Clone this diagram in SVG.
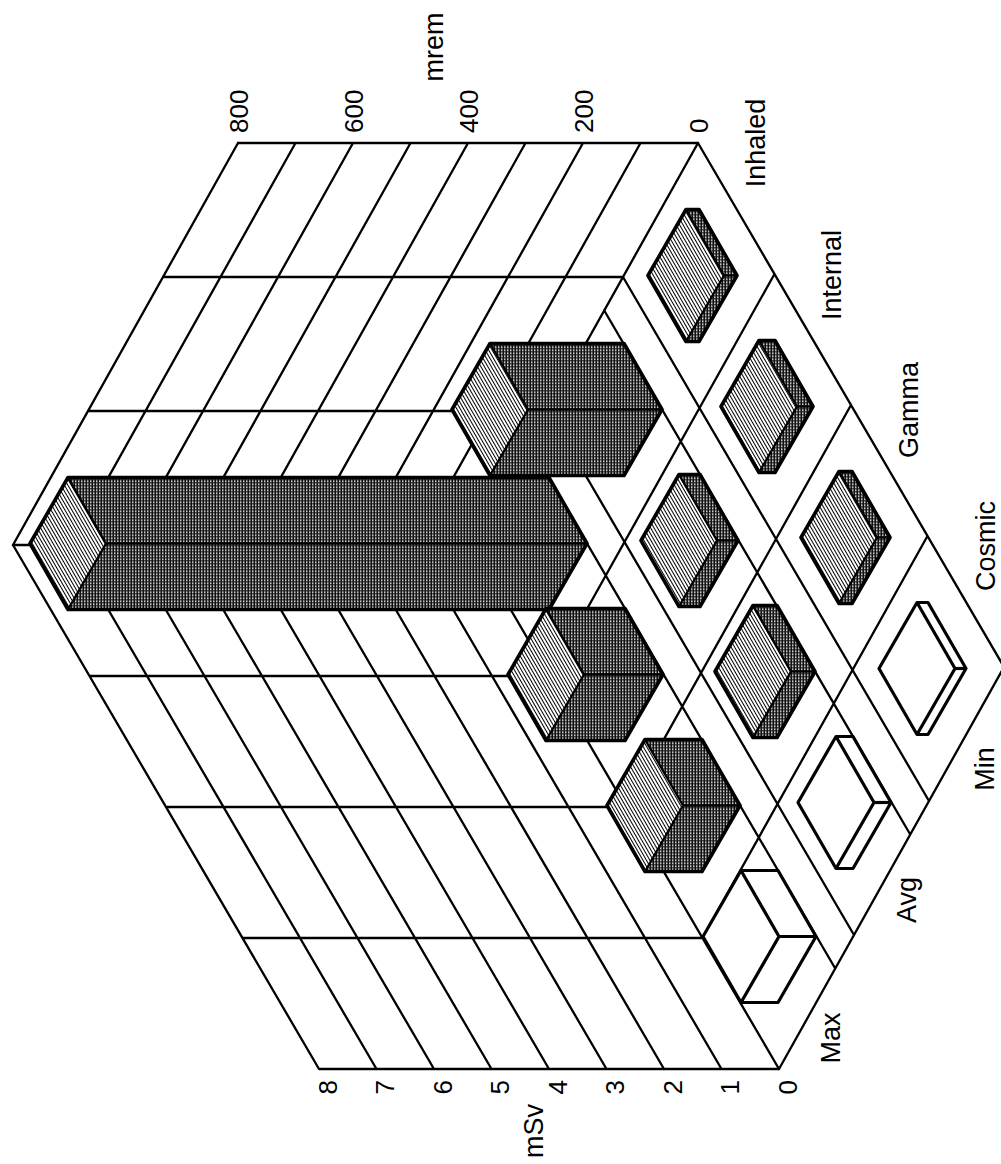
<svg xmlns="http://www.w3.org/2000/svg" width="1001" height="1164" viewBox="0 0 1001 1164">
<defs>
<pattern id="hatch" width="3" height="3" patternUnits="userSpaceOnUse" patternTransform="rotate(60)">
<rect width="3" height="3" fill="#fff"/><rect width="3" height="1" fill="#000"/>
</pattern>
<pattern id="dots" width="3" height="3" patternUnits="userSpaceOnUse">
<rect width="3" height="3" fill="#111"/><rect width="1.5" height="1.5" fill="#fff"/>
</pattern>
</defs>
<style>
.g{stroke:#000;stroke-width:2.3;fill:none;stroke-linecap:round}
.sil{fill:none;stroke:#000;stroke-width:3.6;stroke-linejoin:round}
.in{fill:none;stroke:#000;stroke-width:2.3;stroke-linejoin:round}
.top{fill:url(#hatch)}
.side{fill:url(#dots)}
.w{fill:#fff}
.win{fill:none;stroke:#000;stroke-width:3.2;stroke-linejoin:round}
text{font-family:"Liberation Sans",Arial,Helvetica,sans-serif;font-size:26px;fill:#000}
.lab{font-size:27px}
</style>
<rect width="1001" height="1164" fill="#fff"/>
<g id="wall-back-left">
<path class="g" d="M238 143H698 M163 277H623 M88 411H548 M13 545H473 M698 143L473 545 M640.5 143L415.5 545 M583 143L358 545 M525.5 143L300.5 545 M468 143L243 545 M410.5 143L185.5 545 M353 143L128 545 M295.5 143L70.5 545 M238 143L13 545"/>
</g>
<g id="wall-back-right">
<path class="g" d="M89.5 676H549.5 M166 807H626 M242.5 938H702.5 M319 1069H779 M473 545L779 1069 M415.5 545L721.5 1069 M358 545L664 1069 M300.5 545L606.5 1069 M243 545L549 1069 M185.5 545L491.5 1069 M128 545L434 1069 M70.5 545L376.5 1069 M13 545L319 1069"/>
</g>
<g id="floor">
<path class="g" d="M698 143L1004 667 M623 277L929 801 M604.25 310.5L910.25 834.5 M548 411L854 935 M529.25 444.5L835.25 968.5 M774.5 274L549.5 676 M851 405L626 807 M927.5 536L702.5 938 M1004 667L779 1069"/>
</g>
<g id="bars">
<g id="bar-inhaled-max" transform="translate(549 543.5)">
<polygon class="side" points="-481,-66 0,-66 38,0 -443,0"/>
<polygon class="side" points="-443,0 38,0 0,66 -481,66"/>
<polygon class="top" points="-481,-66 -443,0 -481,66 -519,0"/>
<polyline class="in" points="-481,-66 -443,0 -481,66"/>
<line class="in" x1="-443" y1="0" x2="38" y2="0"/>
<polygon class="sil" points="-481,-66 0,-66 38,0 0,66 -481,66 -519,0"/>
</g>
<g id="bar-inhaled-avg" transform="translate(624 409.5)">
<polygon class="side" points="-134,-66 0,-66 38,0 -96,0"/>
<polygon class="side" points="-96,0 38,0 0,66 -134,66"/>
<polygon class="top" points="-134,-66 -96,0 -134,66 -172,0"/>
<polyline class="in" points="-134,-66 -96,0 -134,66"/>
<line class="in" x1="-96" y1="0" x2="38" y2="0"/>
<polygon class="sil" points="-134,-66 0,-66 38,0 0,66 -134,66 -172,0"/>
</g>
<g id="bar-internal-max" transform="translate(625 674.5)">
<polygon class="side" points="-79,-66 0,-66 38,0 -41,0"/>
<polygon class="side" points="-41,0 38,0 0,66 -79,66"/>
<polygon class="top" points="-79,-66 -41,0 -79,66 -117,0"/>
<polyline class="in" points="-79,-66 -41,0 -79,66"/>
<line class="in" x1="-41" y1="0" x2="38" y2="0"/>
<polygon class="sil" points="-79,-66 0,-66 38,0 0,66 -79,66 -117,0"/>
</g>
<g id="bar-inhaled-min" transform="translate(699 275.5)">
<polygon class="side" points="-13,-66 0,-66 38,0 25,0"/>
<polygon class="side" points="25,0 38,0 0,66 -13,66"/>
<polygon class="top" points="-13,-66 25,0 -13,66 -51,0"/>
<polyline class="in" points="-13,-66 25,0 -13,66"/>
<line class="in" x1="25" y1="0" x2="38" y2="0"/>
<polygon class="sil" points="-13,-66 0,-66 38,0 0,66 -13,66 -51,0"/>
</g>
<g id="bar-internal-avg" transform="translate(700 540.5)">
<polygon class="side" points="-21,-66 0,-66 38,0 17,0"/>
<polygon class="side" points="17,0 38,0 0,66 -21,66"/>
<polygon class="top" points="-21,-66 17,0 -21,66 -59,0"/>
<polyline class="in" points="-21,-66 17,0 -21,66"/>
<line class="in" x1="17" y1="0" x2="38" y2="0"/>
<polygon class="sil" points="-21,-66 0,-66 38,0 0,66 -21,66 -59,0"/>
</g>
<g id="bar-gamma-max" transform="translate(702 805.5)">
<polygon class="side" points="-57,-66 0,-66 38,0 -19,0"/>
<polygon class="side" points="-19,0 38,0 0,66 -57,66"/>
<polygon class="top" points="-57,-66 -19,0 -57,66 -95,0"/>
<polyline class="in" points="-57,-66 -19,0 -57,66"/>
<line class="in" x1="-19" y1="0" x2="38" y2="0"/>
<polygon class="sil" points="-57,-66 0,-66 38,0 0,66 -57,66 -95,0"/>
</g>
<g id="bar-internal-min" transform="translate(775 406.5)">
<polygon class="side" points="-16,-66 0,-66 38,0 22,0"/>
<polygon class="side" points="22,0 38,0 0,66 -16,66"/>
<polygon class="top" points="-16,-66 22,0 -16,66 -54,0"/>
<polyline class="in" points="-16,-66 22,0 -16,66"/>
<line class="in" x1="22" y1="0" x2="38" y2="0"/>
<polygon class="sil" points="-16,-66 0,-66 38,0 0,66 -16,66 -54,0"/>
</g>
<g id="bar-gamma-avg" transform="translate(777 671.5)">
<polygon class="side" points="-24,-66 0,-66 38,0 14,0"/>
<polygon class="side" points="14,0 38,0 0,66 -24,66"/>
<polygon class="top" points="-24,-66 14,0 -24,66 -62,0"/>
<polyline class="in" points="-24,-66 14,0 -24,66"/>
<line class="in" x1="14" y1="0" x2="38" y2="0"/>
<polygon class="sil" points="-24,-66 0,-66 38,0 0,66 -24,66 -62,0"/>
</g>
<g id="bar-cosmic-max" transform="translate(778 936.5)">
<polygon class="w" points="-37,-66 0,-66 38,0 0,66 -37,66 -75,0"/>
<polyline class="win" points="-37,-66 1,0 -37,66"/>
<line class="win" x1="1" y1="0" x2="38" y2="0"/>
<polygon class="win" points="-37,-66 0,-66 38,0 0,66 -37,66 -75,0"/>
</g>
<g id="bar-gamma-min" transform="translate(852 537.5)">
<polygon class="side" points="-13,-66 0,-66 38,0 25,0"/>
<polygon class="side" points="25,0 38,0 0,66 -13,66"/>
<polygon class="top" points="-13,-66 25,0 -13,66 -51,0"/>
<polyline class="in" points="-13,-66 25,0 -13,66"/>
<line class="in" x1="25" y1="0" x2="38" y2="0"/>
<polygon class="sil" points="-13,-66 0,-66 38,0 0,66 -13,66 -51,0"/>
</g>
<g id="bar-cosmic-avg" transform="translate(853 802.5)">
<polygon class="w" points="-17,-66 0,-66 38,0 0,66 -17,66 -55,0"/>
<polyline class="win" points="-17,-66 21,0 -17,66"/>
<line class="win" x1="21" y1="0" x2="38" y2="0"/>
<polygon class="win" points="-17,-66 0,-66 38,0 0,66 -17,66 -55,0"/>
</g>
<g id="bar-cosmic-min" transform="translate(928 668.5)">
<polygon class="w" points="-11,-66 0,-66 38,0 0,66 -11,66 -49,0"/>
<polyline class="win" points="-11,-66 27,0 -11,66"/>
<line class="win" x1="27" y1="0" x2="38" y2="0"/>
<polygon class="win" points="-11,-66 0,-66 38,0 0,66 -11,66 -49,0"/>
</g>
</g>
<g id="axis-mrem">
<text transform="translate(707.5 133) rotate(-90)">0</text>
<text transform="translate(592.5 133) rotate(-90)">200</text>
<text transform="translate(477.5 133) rotate(-90)">400</text>
<text transform="translate(362.5 133) rotate(-90)">600</text>
<text transform="translate(247.5 133) rotate(-90)">800</text>
<text class="lab" transform="translate(443 47) rotate(-90)" text-anchor="middle">mrem</text>
</g>
<g id="axis-msv" text-anchor="end">
<text transform="translate(796.5 1080) rotate(-90)">0</text>
<text transform="translate(739 1080) rotate(-90)">1</text>
<text transform="translate(681.5 1080) rotate(-90)">2</text>
<text transform="translate(624 1080) rotate(-90)">3</text>
<text transform="translate(566.5 1080) rotate(-90)">4</text>
<text transform="translate(509 1080) rotate(-90)">5</text>
<text transform="translate(451.5 1080) rotate(-90)">6</text>
<text transform="translate(394 1080) rotate(-90)">7</text>
<text transform="translate(336.5 1080) rotate(-90)">8</text>
<text class="lab" transform="translate(543 1131) rotate(-90)" text-anchor="middle">mSv</text>
</g>
<g id="labels-source" text-anchor="middle" class="lab">
<text class="lab" transform="translate(765 143) rotate(-90)">Inhaled</text>
<text class="lab" transform="translate(841 275) rotate(-90)">Internal</text>
<text class="lab" transform="translate(918 410) rotate(-90)">Gamma</text>
<text class="lab" transform="translate(995 546) rotate(-90)">Cosmic</text>
</g>
<g id="labels-level" text-anchor="middle">
<text class="lab" transform="translate(840 1038) rotate(-90)">Max</text>
<text class="lab" transform="translate(916 900) rotate(-90)">Avg</text>
<text class="lab" transform="translate(994 769) rotate(-90)">Min</text>
</g>
</svg>
